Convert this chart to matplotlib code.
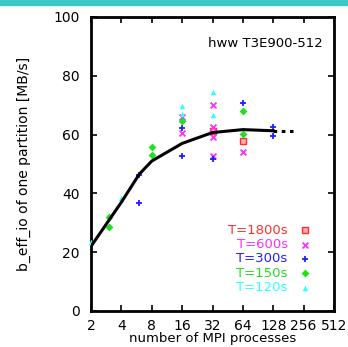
import numpy as np
import matplotlib
matplotlib.use("Agg")
import matplotlib.pyplot as plt
from matplotlib.patches import Rectangle

# average curve
avg_x = [2, 4, 6, 8, 16, 32, 64, 128]
avg_y = [22.0, 37.0, 46.5, 51.0, 57.0, 60.7, 61.7, 61.3]
extrap_x = [128, 200]
extrap_y = [61.3, 61.3]

# measurements per scheduled time
t1800_x = [32, 64]
t1800_y = [61.3, 57.8]

t600_x = [16, 16, 32, 32, 32, 32, 64]
t600_y = [66.0, 60.4, 70.2, 62.7, 59.3, 52.7, 54.0]

t300_x = [6, 6, 16, 16, 32, 64, 128, 128]
t300_y = [46.3, 36.7, 62.3, 52.6, 51.7, 70.7, 62.6, 59.6]

t150_x = [3, 3, 8, 8, 16, 64, 64]
t150_y = [32.0, 28.6, 55.8, 53.1, 64.5, 68.0, 60.1]

t120_x = [2, 4, 16, 16, 32, 32]
t120_y = [23.6, 38.3, 69.8, 66.9, 74.4, 66.7]

series = [
    ("T=1800s", t1800_x, t1800_y, "#ff3030", "s"),
    ("T=600s", t600_x, t600_y, "#ff30ff", "x"),
    ("T=300s", t300_x, t300_y, "#2020ff", "+"),
    ("T=150s", t150_x, t150_y, "#20e020", "D"),
    ("T=120s", t120_x, t120_y, "#30ffff", "^"),
]

xticks = [2, 4, 8, 16, 32, 64, 128, 256, 512]
yticks = [0, 20, 40, 60, 80, 100]

plt.rcParams["font.family"] = ["DejaVu Sans"]


def draw_marker(ax, xs, ys, color, marker):
    if marker == "s":
        ax.scatter(xs, ys, s=16, marker=marker, facecolor="#ffb0b0", edgecolor=color,
                   linewidth=1.0, zorder=3, clip_on=False)
    elif marker in ("x", "+"):
        ax.scatter(xs, ys, s=18, marker=marker, color=color, linewidth=1.3, zorder=3,
                   clip_on=False)
    else:
        ax.scatter(xs, ys, s=16, marker=marker, color=color, linewidth=0, zorder=3,
                   clip_on=False)


fig = plt.figure(figsize=(3.48, 3.47), dpi=100)
fig.patches.append(Rectangle((0, 1 - 5 / 347), 1, 5 / 347, transform=fig.transFigure,
                             color="#3cc8c8", zorder=0))
ax = fig.add_axes([91 / 348, 1 - 311 / 347, 243 / 348, 294 / 347])

ax.set_xscale("log", base=2)
ax.set_xlim(2, 512)
ax.set_ylim(0, 100)

for name, xs, ys, color, marker in series:
    draw_marker(ax, xs, ys, color, marker)

ax.plot(avg_x, avg_y, color="black", linewidth=2.2, zorder=4)
ax.plot(extrap_x, extrap_y, color="black", linewidth=2.2, linestyle=(0, (1.2, 1.5)), zorder=4)

# legend, gnuplot style: coloured text, marker on the right
leg_y = [27.5, 22.5, 17.8, 12.8, 7.9]
for (name, xs, ys, color, marker), ly in zip(series, leg_y):
    ax.text(178, ly, name, color=color, fontsize=9.5, ha="right", va="center")
    draw_marker(ax, [265], [ly], color, marker)

ax.text(0.955, 0.91, "hww T3E900-512", transform=ax.transAxes, ha="right", va="center",
        fontsize=9.5)

ax.set_xticks(xticks)
ax.set_xticklabels([str(v) for v in xticks])
ax.xaxis.set_minor_locator(matplotlib.ticker.NullLocator())
ax.set_yticks(yticks)
ax.tick_params(direction="in", length=4, width=1.2, top=True, right=True, labelsize=10)
ax.tick_params(axis="x", pad=6)
ax.tick_params(axis="y", pad=8)
for s in ax.spines.values():
    s.set_linewidth(2)

ax.set_xlabel("number of MPI processes", fontsize=9.5, labelpad=-1)
ax.set_ylabel("b_eff_io of one partition [MB/s]", fontsize=10, labelpad=16)

fig.savefig("out.png", dpi=100)
